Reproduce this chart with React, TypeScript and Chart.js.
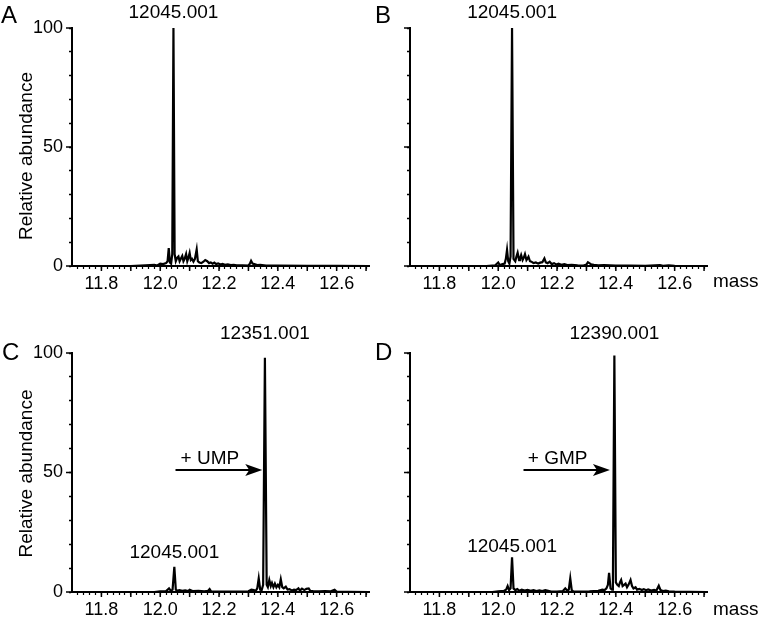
import React, { useEffect, useRef } from 'react';
import { Chart, registerables } from 'chart.js';

Chart.register(...registerables);

const FONT = "'Liberation Sans', Arial, Helvetica, sans-serif";

// Axis tick labels
const xTickLabels = ['11.8', '12.0', '12.2', '12.4', '12.6'];
const yTickLabels = ['0', '50', '100'];
const xMin = 11.7;
const xMax = 12.71;

// Panel A (mass in thousands, relative abundance %)
const massA = [11.70, 11.90, 11.95, 11.98, 11.99, 12.00, 12.01, 12.02, 12.025, 12.029, 12.033, 12.037, 12.041, 12.045, 12.049, 12.053, 12.058, 12.062, 12.066, 12.070, 12.075, 12.079, 12.083, 12.088, 12.092, 12.096, 12.100, 12.104, 12.108, 12.113, 12.118, 12.124, 12.128, 12.133, 12.140, 12.147, 12.153, 12.160, 12.166, 12.172, 12.178, 12.184, 12.190, 12.197, 12.205, 12.212, 12.220, 12.230, 12.240, 12.250, 12.260, 12.280, 12.300, 12.305, 12.309, 12.314, 12.320, 12.330, 12.340, 12.360, 12.400, 12.500, 12.600, 12.710];
const abundA = [0, 0, 0.3, 0.5, 0.2, 1.0, 0.8, 1.2, 2, 7.5, 1.5, 1, 5, 100, 5, 2, 3.5, 4, 2, 3, 4.2, 2, 3, 5, 2, 3.5, 5.5, 2.5, 3, 1.8, 3, 7, 2, 1.5, 1.2, 1.8, 2.5, 2, 1.2, 1.5, 1, 1.4, 0.8, 1.1, 0.6, 0.9, 0.5, 0.7, 0.4, 0.5, 0.3, 0.3, 0.2, 1, 2.2, 1, 0.8, 0.4, 0.5, 0.2, 0.2, 0.1, 0.1, 0];

// Panel B
const massB = [11.70, 11.96, 11.99, 12.000, 12.005, 12.015, 12.022, 12.026, 12.030, 12.034, 12.038, 12.042, 12.047, 12.052, 12.058, 12.062, 12.066, 12.071, 12.074, 12.078, 12.083, 12.087, 12.091, 12.096, 12.100, 12.103, 12.108, 12.113, 12.120, 12.128, 12.136, 12.143, 12.150, 12.157, 12.162, 12.168, 12.175, 12.182, 12.190, 12.198, 12.205, 12.215, 12.225, 12.235, 12.250, 12.270, 12.290, 12.300, 12.305, 12.310, 12.316, 12.325, 12.340, 12.360, 12.400, 12.450, 12.500, 12.550, 12.560, 12.580, 12.600, 12.710];
const abundB = [0, 0, 0.3, 1.5, 0.4, 0.8, 1, 3, 6.8, 2, 1, 4, 100, 3, 2, 4, 5.6, 2.5, 3, 4.6, 2.5, 3.5, 5, 2.5, 3.2, 3.9, 2, 1.8, 1.2, 1.5, 1, 1.4, 1.6, 3.2, 1.5, 1.2, 1.8, 0.8, 1.2, 0.6, 1, 0.5, 0.8, 0.4, 0.5, 0.3, 0.2, 0.6, 1.6, 1.2, 0.7, 0.5, 0.3, 0.4, 0.2, 0.2, 0.1, 0.4, 0.1, 0.3, 0.1, 0];

// Panel C
const massC = [11.70, 11.98, 12.00, 12.02, 12.030, 12.036, 12.042, 12.048, 12.053, 12.058, 12.065, 12.075, 12.085, 12.095, 12.100, 12.110, 12.130, 12.150, 12.163, 12.168, 12.173, 12.200, 12.250, 12.300, 12.310, 12.318, 12.325, 12.330, 12.335, 12.340, 12.345, 12.350, 12.356, 12.362, 12.366, 12.371, 12.376, 12.380, 12.385, 12.390, 12.395, 12.400, 12.405, 12.410, 12.415, 12.420, 12.427, 12.433, 12.440, 12.448, 12.455, 12.462, 12.470, 12.475, 12.482, 12.490, 12.497, 12.505, 12.510, 12.520, 12.540, 12.560, 12.580, 12.593, 12.600, 12.640, 12.710];
const abundC = [0, 0, 0.3, 0.4, 1.5, 0.5, 1, 10.5, 1, 0.5, 0.8, 0.5, 0.7, 0.4, 0.9, 0.4, 0.5, 0.3, 0.5, 1.2, 0.3, 0.2, 0.2, 0.3, 1, 0.8, 0.5, 1.5, 5.7, 1, 0.8, 3, 98, 3, 2, 5, 2.5, 3.8, 2, 3.5, 2, 3, 2, 5.3, 2, 1.5, 2.2, 1, 1.2, 0.6, 1, 0.8, 1.5, 0.6, 1.4, 0.8, 1.3, 1.5, 0.5, 0.4, 0.3, 0.4, 0.3, 0.9, 0.2, 0.1, 0];

// Panel D
const massD = [11.70, 11.98, 12.00, 12.02, 12.027, 12.032, 12.037, 12.042, 12.047, 12.052, 12.058, 12.065, 12.072, 12.080, 12.090, 12.100, 12.110, 12.120, 12.130, 12.140, 12.150, 12.160, 12.170, 12.180, 12.200, 12.220, 12.228, 12.235, 12.240, 12.245, 12.250, 12.255, 12.280, 12.310, 12.340, 12.354, 12.362, 12.368, 12.373, 12.377, 12.382, 12.387, 12.390, 12.395, 12.400, 12.405, 12.410, 12.414, 12.418, 12.423, 12.428, 12.433, 12.438, 12.443, 12.450, 12.455, 12.460, 12.467, 12.472, 12.480, 12.488, 12.495, 12.503, 12.510, 12.520, 12.530, 12.538, 12.546, 12.552, 12.560, 12.570, 12.580, 12.600, 12.650, 12.710];
const abundD = [0, 0, 0.3, 0.5, 1, 2.5, 0.8, 1.5, 14.5, 1.5, 0.8, 1.2, 0.5, 1, 0.6, 0.9, 0.5, 0.8, 0.4, 0.7, 0.4, 0.8, 0.5, 0.2, 0.2, 0.4, 1.5, 0.5, 1, 5.7, 0.8, 0.3, 0.2, 0.3, 0.5, 1, 0.8, 1.5, 3, 8, 1.5, 1, 4, 99, 4, 3, 2.5, 4, 5, 2.5, 3, 3.5, 2, 3, 5, 2.5, 1.5, 2, 1, 1.3, 0.8, 1.2, 0.7, 1.1, 0.6, 0.9, 0.6, 2.6, 0.8, 0.4, 0.6, 0.3, 0.2, 0.1, 0];

type Label = { text: string; x: number; y: number };
type Arrow = { from: number; to: number; y: number };

type PanelCfg = {
  key: string;
  mass: number[];
  abund: number[];
  left: number;
  top: number;
  width: number;
  height: number;
  padTop: number;
  padRight: number;
  yWidth: number;
  xHeight: number;
  showYLabels: boolean;
  letter: { x: number; y: number };
  yTitle: { x: number; y: number } | null;
  labels: Label[];
  arrow: Arrow | null;
  massLabel: { x: number; y: number } | null;
};

const panels: PanelCfg[] = [
  {
    key: 'A', mass: massA, abund: abundA,
    left: 0, top: 0, width: 381, height: 300,
    padTop: 28, padRight: 12, yWidth: 72, xHeight: 34,
    showYLabels: true,
    letter: { x: 1, y: 23 },
    yTitle: { x: 27, y: 156 },
    labels: [{ text: '12045.001', x: 12.045, y: 104.2 }],
    arrow: null,
    massLabel: null,
  },
  {
    key: 'B', mass: massB, abund: abundB,
    left: 370, top: 0, width: 392, height: 300,
    padTop: 28, padRight: 55, yWidth: 40, xHeight: 34,
    showYLabels: false,
    letter: { x: 5, y: 23 },
    yTitle: null,
    labels: [{ text: '12045.001', x: 12.047, y: 104.2 }],
    arrow: null,
    massLabel: { x: 343, y: 287 },
  },
  {
    key: 'C', mass: massC, abund: abundC,
    left: 0, top: 300, width: 381, height: 323,
    padTop: 53, padRight: 12, yWidth: 72, xHeight: 31,
    showYLabels: true,
    letter: { x: 2, y: 60 },
    yTitle: { x: 27, y: 173.5 },
    labels: [
      { text: '12351.001', x: 12.356, y: 105.9 },
      { text: '12045.001', x: 12.048, y: 14.2 },
      { text: '+ UMP', x: 12.169, y: 53.5 },
    ],
    arrow: { from: 12.052, to: 12.347, y: 51 },
    massLabel: null,
  },
  {
    key: 'D', mass: massD, abund: abundD,
    left: 370, top: 300, width: 392, height: 323,
    padTop: 53, padRight: 55, yWidth: 40, xHeight: 31,
    showYLabels: false,
    letter: { x: 5, y: 60 },
    yTitle: null,
    labels: [
      { text: '12390.001', x: 12.395, y: 105.9 },
      { text: '12045.001', x: 12.047, y: 16.9 },
      { text: '+ GMP', x: 12.202, y: 53.5 },
    ],
    arrow: { from: 12.086, to: 12.38, y: 51 },
    massLabel: { x: 343, y: 315 },
  },
];

function isMultiple(v: number, step: number) {
  const r = v / step;
  return Math.abs(r - Math.round(r)) < 1e-6;
}

function makePlugin(cfg: PanelCfg) {
  return {
    id: 'panelDecor' + cfg.key,
    afterDraw(chart: any) {
      const ctx = chart.ctx;
      const xs = chart.scales.x;
      const ys = chart.scales.y;
      const area = chart.chartArea;
      ctx.save();
      ctx.strokeStyle = '#000';
      ctx.fillStyle = '#000';
      // longer major ticks
      ctx.lineWidth = 1.5;
      for (const t of xs.ticks) {
        if (isMultiple(t.value, 0.1)) {
          const px = xs.getPixelForValue(t.value);
          ctx.beginPath();
          ctx.moveTo(px, area.bottom);
          ctx.lineTo(px, area.bottom + 5);
          ctx.stroke();
        }
      }
      for (const t of ys.ticks) {
        if (isMultiple(t.value, 50)) {
          const py = ys.getPixelForValue(t.value);
          ctx.beginPath();
          ctx.moveTo(area.left, py);
          ctx.lineTo(area.left - 6, py);
          ctx.stroke();
        }
      }
      // panel letter
      ctx.textAlign = 'left';
      ctx.textBaseline = 'alphabetic';
      ctx.font = `24px ${FONT}`;
      ctx.fillText(cfg.key, cfg.letter.x, cfg.letter.y);
      // peak labels
      ctx.font = `19px ${FONT}`;
      ctx.textAlign = 'center';
      for (const l of cfg.labels) {
        ctx.fillText(l.text, xs.getPixelForValue(l.x), ys.getPixelForValue(l.y));
      }
      // arrow
      if (cfg.arrow) {
        const x1 = xs.getPixelForValue(cfg.arrow.from);
        const x2 = xs.getPixelForValue(cfg.arrow.to);
        const y = ys.getPixelForValue(cfg.arrow.y);
        ctx.lineWidth = 2;
        ctx.beginPath();
        ctx.moveTo(x1, y);
        ctx.lineTo(x2 - 12, y);
        ctx.stroke();
        ctx.beginPath();
        ctx.moveTo(x2, y);
        ctx.lineTo(x2 - 17, y - 6);
        ctx.lineTo(x2 - 13, y);
        ctx.lineTo(x2 - 17, y + 6);
        ctx.closePath();
        ctx.fill();
      }
      // mass label
      if (cfg.massLabel) {
        ctx.textAlign = 'left';
        ctx.font = `19px ${FONT}`;
        ctx.fillText('mass', cfg.massLabel.x, cfg.massLabel.y);
      }
      // y title
      if (cfg.yTitle) {
        ctx.translate(cfg.yTitle.x, cfg.yTitle.y);
        ctx.rotate(-Math.PI / 2);
        ctx.textAlign = 'center';
        ctx.textBaseline = 'middle';
        ctx.font = `19px ${FONT}`;
        ctx.fillText('Relative abundance', 0, 0);
      }
      ctx.restore();
    },
  };
}

function buildConfig(cfg: PanelCfg): any {
  const points = cfg.mass.map((m, i) => ({ x: m, y: cfg.abund[i] }));
  return {
    type: 'line',
    data: {
      datasets: [
        {
          data: points,
          borderColor: '#000',
          borderWidth: 2.2,
          pointRadius: 0,
          tension: 0,
          fill: false,
        },
      ],
    },
    options: {
      animation: false,
      responsive: false,
      maintainAspectRatio: false,
      layout: { padding: { top: cfg.padTop, right: cfg.padRight, bottom: 0, left: 0 } },
      plugins: { legend: { display: false }, tooltip: { enabled: false } },
      scales: {
        x: {
          type: 'linear',
          min: xMin,
          max: xMax,
          afterBuildTicks: (scale: any) => {
            const ticks: any[] = [];
            for (let i = 1; i <= 50; i++) {
              ticks.push({ value: Math.round((xMin + 0.02 * i) * 100) / 100 });
            }
            scale.ticks = ticks;
          },
          afterFit: (scale: any) => {
            scale.height = cfg.xHeight;
          },
          grid: {
            display: true,
            drawOnChartArea: false,
            drawTicks: true,
            tickLength: 3,
            color: '#000',
            tickWidth: 1.2,
          },
          border: { display: true, color: '#000', width: 2 },
          ticks: {
            autoSkip: false,
            maxRotation: 0,
            minRotation: 0,
            padding: 4,
            color: '#000',
            font: { family: FONT, size: 18 },
            callback: (value: any) => {
              const v = Number(value);
              const s = v.toFixed(1);
              return isMultiple(v, 0.1) && xTickLabels.includes(s) ? s : '';
            },
          },
        },
        y: {
          type: 'linear',
          min: 0,
          max: 100,
          afterFit: (scale: any) => {
            scale.width = cfg.yWidth;
          },
          grid: {
            display: true,
            drawOnChartArea: false,
            drawTicks: true,
            tickLength: 3,
            color: '#000',
            tickWidth: 1.5,
          },
          border: { display: true, color: '#000', width: 2 },
          ticks: {
            autoSkip: false,
            stepSize: 10,
            padding: 6,
            color: '#000',
            font: { family: FONT, size: 18 },
            callback: (value: any) => {
              const s = String(value);
              return cfg.showYLabels && yTickLabels.includes(s) ? s : '';
            },
          },
        },
      },
    },
    plugins: [makePlugin(cfg)],
  };
}

function Panel({ cfg }: { cfg: PanelCfg }) {
  const ref = useRef<HTMLCanvasElement | null>(null);
  useEffect(() => {
    if (!ref.current) return;
    const chart = new Chart(ref.current, buildConfig(cfg));
    return () => chart.destroy();
  }, [cfg]);
  return (
    <canvas
      ref={ref}
      width={cfg.width}
      height={cfg.height}
      style={{ position: 'absolute', left: cfg.left, top: cfg.top, width: cfg.width, height: cfg.height }}
    />
  );
}

export default function App() {
  return (
    <div style={{ position: 'absolute', left: 0, top: 0, width: 762, height: 623, background: '#fff' }}>
      {panels.map((p) => (
        <Panel key={p.key} cfg={p} />
      ))}
    </div>
  );
}
